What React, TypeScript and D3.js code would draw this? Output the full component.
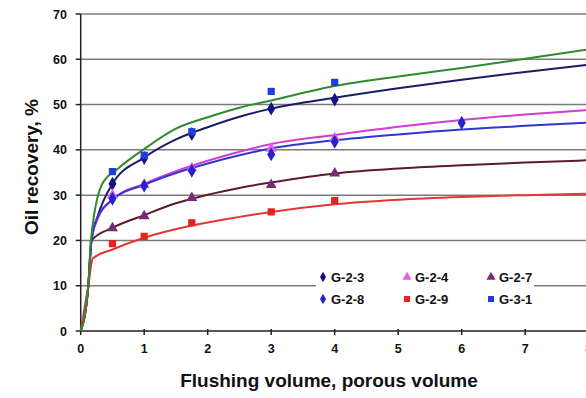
import React, { useRef, useEffect } from 'react';
import * as d3 from 'd3';

type Pt = [number, number];

const xTicks = [0, 1, 2, 3, 4, 5, 6, 7, 8];
const yTicks = [0, 10, 20, 30, 40, 50, 60, 70];

// measured points
const g23Points: Pt[] = [[0.5, 32.5], [1, 38.2], [1.75, 43.5], [3, 49.1], [4, 51.1]];
const g24Points: Pt[] = [[0.5, 30], [1, 32.3], [1.75, 36], [3, 40.3], [4, 42.6]];
const g27Points: Pt[] = [[0.5, 22.7], [1, 25.4], [1.75, 29.4], [3, 32.3], [4, 34.8]];
const g28Points: Pt[] = [[0.5, 29.2], [1, 32.1], [1.75, 35.4], [3, 39], [4, 41.8], [6, 46]];
const g29Points: Pt[] = [[0.5, 19.3], [1, 20.9], [1.75, 23.9], [3, 26.3], [4, 28.8]];
const g31Points: Pt[] = [[0.5, 35.2], [1, 38.8], [1.75, 44], [3, 52.9], [4, 54.9]];

// fitted curves
const g23Curve: Pt[] = [[0, 0], [0.12, 10], [0.17, 20], [0.26, 25], [0.5, 32.5], [1, 38.3], [1.5, 42.3], [2, 45], [2.5, 47.3], [3, 49.1], [4, 51.5], [5, 53.6], [6, 55.5], [7, 57.2], [8, 58.8]];
const g24Curve: Pt[] = [[0, 0], [0.12, 10], [0.17, 20], [0.26, 24.5], [0.5, 29], [1, 32.5], [1.5, 35.3], [2, 37.6], [2.5, 39.6], [3, 41.3], [4, 43.3], [5, 45.1], [6, 46.6], [7, 47.8], [8, 48.8]];
const g27Curve: Pt[] = [[0, 0], [0.12, 10], [0.17, 20], [0.5, 22.8], [1, 25.6], [1.5, 28.2], [2, 30.1], [2.5, 31.6], [3, 32.8], [4, 34.8], [5, 35.9], [6, 36.6], [7, 37.2], [8, 37.7]];
const g28Curve: Pt[] = [[0, 0], [0.12, 10], [0.17, 20], [0.26, 25], [0.5, 29], [1, 32.3], [1.5, 34.9], [2, 37], [2.5, 38.8], [3, 40.3], [4, 42.1], [5, 43.4], [6, 44.5], [7, 45.3], [8, 46]];
const g29Curve: Pt[] = [[0, 0], [0.12, 10], [0.19, 16], [0.5, 18], [1, 20.6], [1.75, 23.3], [2.5, 25.2], [3, 26.3], [4, 28], [5, 29], [6, 29.6], [7, 30], [8, 30.3]];
const g31Curve: Pt[] = [[0, 0], [0.12, 10], [0.16, 20], [0.34, 32.5], [0.6, 36], [1, 40.2], [1.5, 44.7], [2, 47.2], [2.5, 49.3], [3, 50.9], [4, 54.1], [5, 56.2], [6, 58.1], [7, 60.1], [8, 62.2]];

const series = [
  { name: 'G-2-3', points: g23Points, curve: g23Curve, marker: 'diamond', mColor: '#14148a', lColor: '#1c1c66' },
  { name: 'G-2-4', points: g24Points, curve: g24Curve, marker: 'triangle', mColor: '#e65ce6', lColor: '#d23cd2' },
  { name: 'G-2-7', points: g27Points, curve: g27Curve, marker: 'triangle', mColor: '#7a2a72', lColor: '#5c1c2c' },
  { name: 'G-2-8', points: g28Points, curve: g28Curve, marker: 'diamond', mColor: '#2424cc', lColor: '#3434d0' },
  { name: 'G-2-9', points: g29Points, curve: g29Curve, marker: 'square', mColor: '#e52222', lColor: '#e83434' },
  { name: 'G-3-1', points: g31Points, curve: g31Curve, marker: 'square', mColor: '#1e3ede', lColor: '#2e8b2e' },
];

const symbolFor = (m: string) =>
  m === 'diamond' ? d3.symbolDiamond : m === 'triangle' ? d3.symbolTriangle : d3.symbolSquare;

const App = () => {
  const svgRef = useRef<SVGSVGElement>(null);

  useEffect(() => {
    const svg = d3.select(svgRef.current);
    svg.selectAll('*').remove();

    const x = d3.scaleLinear().domain([0, 8]).range([80.7, 588.7]);
    const y = d3.scaleLinear().domain([0, 70]).range([331, 14]);

    svg.append('rect').attr('width', 586).attr('height', 398).attr('fill', '#fff');

    // grid
    svg.append('g')
      .selectAll('line')
      .data(yTicks.filter(d => d > 0))
      .enter().append('line')
      .attr('x1', x(0)).attr('x2', 586)
      .attr('y1', d => y(d)).attr('y2', d => y(d))
      .style('stroke', '#7a7a7a')
      .style('stroke-width', 1.5);

    const lab = (sel: any) => sel
      .style('font-family', '"Liberation Sans", Arial, sans-serif')
      .style('font-weight', 'bold');

    // y axis
    const ya = svg.append('g');
    ya.append('line').attr('x1', x(0)).attr('x2', x(0)).attr('y1', y(0)).attr('y2', y(70))
      .style('stroke', '#222').style('stroke-width', 1.5);
    ya.selectAll('.yt').data(yTicks).enter().append('line')
      .attr('x1', x(0) - 5).attr('x2', x(0)).attr('y1', d => y(d)).attr('y2', d => y(d))
      .style('stroke', '#222').style('stroke-width', 1.5);
    ya.selectAll('text').data(yTicks).enter().append('text')
      .attr('x', 67).attr('y', d => y(d) + 4.5)
      .attr('text-anchor', 'end')
      .style('font-size', '12.5px').style('fill', '#111')
      .call(lab)
      .text(d => d);

    // x axis
    const xa = svg.append('g');
    xa.append('line').attr('x1', x(0)).attr('x2', 586).attr('y1', y(0)).attr('y2', y(0))
      .style('stroke', '#222').style('stroke-width', 1.5);
    xa.selectAll('.xt').data(xTicks).enter().append('line')
      .attr('x1', d => x(d)).attr('x2', d => x(d)).attr('y1', y(0) - 2).attr('y2', y(0) + 4)
      .style('stroke', '#222').style('stroke-width', 1.5);
    xa.selectAll('text').data(xTicks).enter().append('text')
      .attr('x', d => x(d)).attr('y', 353)
      .attr('text-anchor', 'middle')
      .style('font-size', '12.5px').style('fill', '#111')
      .call(lab)
      .text(d => d);

    // curves
    const line = d3.line<Pt>()
      .x(d => x(d[0]))
      .y(d => y(d[1]))
      .curve(d3.curveMonotoneX);

    series.forEach(s => {
      svg.append('path')
        .datum(s.curve)
        .attr('d', line)
        .style('fill', 'none')
        .style('stroke', s.lColor)
        .style('stroke-width', 2);
    });

    // markers
    series.forEach(s => {
      svg.append('g')
        .selectAll('path')
        .data(s.points)
        .enter().append('path')
        .attr('transform', d => `translate(${x(d[0])},${y(d[1])})`)
        .attr('d', d3.symbol().type(symbolFor(s.marker)).size(s.marker === 'diamond' ? 56 : 52)())
        .style('fill', s.mColor);
    });

    // legend
    const lg = svg.append('g');
    lg.append('rect').attr('x', 316).attr('y', 266).attr('width', 218).attr('height', 44).attr('fill', '#fff');
    series.forEach((s, i) => {
      const cx = 323 + (i % 3) * 84;
      const cy = 277 + Math.floor(i / 3) * 22;
      lg.append('path')
        .attr('transform', `translate(${cx},${cy})`)
        .attr('d', d3.symbol().type(symbolFor(s.marker)).size(s.marker === 'diamond' ? 32 : 36)())
        .style('fill', s.mColor);
      lg.append('text')
        .attr('x', cx + 8).attr('y', cy + 5)
        .style('font-size', '13px').style('fill', '#111')
        .call(lab)
        .text(s.name);
    });

    // titles
    svg.append('text')
      .attr('x', 329).attr('y', 387)
      .attr('text-anchor', 'middle')
      .style('font-size', '19px').style('fill', '#111')
      .call(lab)
      .text('Flushing volume, porous volume');

    svg.append('text')
      .attr('transform', 'rotate(-90)')
      .attr('x', -167).attr('y', 38)
      .attr('text-anchor', 'middle')
      .style('font-size', '19px').style('fill', '#111')
      .call(lab)
      .text('Oil recovery, %');
  }, []);

  return (
    <svg ref={svgRef} width={586} height={398}
      style={{ position: 'absolute', left: 0, top: 0, display: 'block' }} />
  );
};

export default App;
